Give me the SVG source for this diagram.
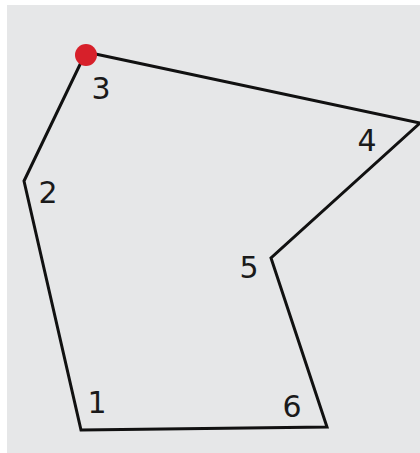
<svg xmlns="http://www.w3.org/2000/svg" width="420" height="453" viewBox="0 0 420 453">
  <style>
    .lbl { font-family: "DejaVu Sans", "Liberation Sans", sans-serif; font-size: 30px; fill: #1a1a1a; text-anchor: middle; }
    .edge { fill: none; stroke: #111; stroke-width: 3; stroke-linejoin: miter; }
  </style>
  <rect x="0" y="0" width="420" height="453" fill="#ffffff"/>
  <rect x="7" y="5" width="413" height="448" fill="#e6e7e8"/>
  <g id="connectors">
    <polygon class="edge" points="81,430 327,427 271,258 420,123 86,52 24,181"/>
  </g>
  <g id="v1"><text class="lbl" x="97" y="413">1</text></g>
  <g id="v2"><text class="lbl" x="48" y="203">2</text></g>
  <g id="v3">
    <circle cx="86" cy="55" r="11" fill="#d7202a"/>
    <text class="lbl" x="101" y="99">3</text>
  </g>
  <g id="v4"><text class="lbl" x="367" y="151">4</text></g>
  <g id="v5"><text class="lbl" x="249" y="278">5</text></g>
  <g id="v6"><text class="lbl" x="292" y="417">6</text></g>
</svg>
